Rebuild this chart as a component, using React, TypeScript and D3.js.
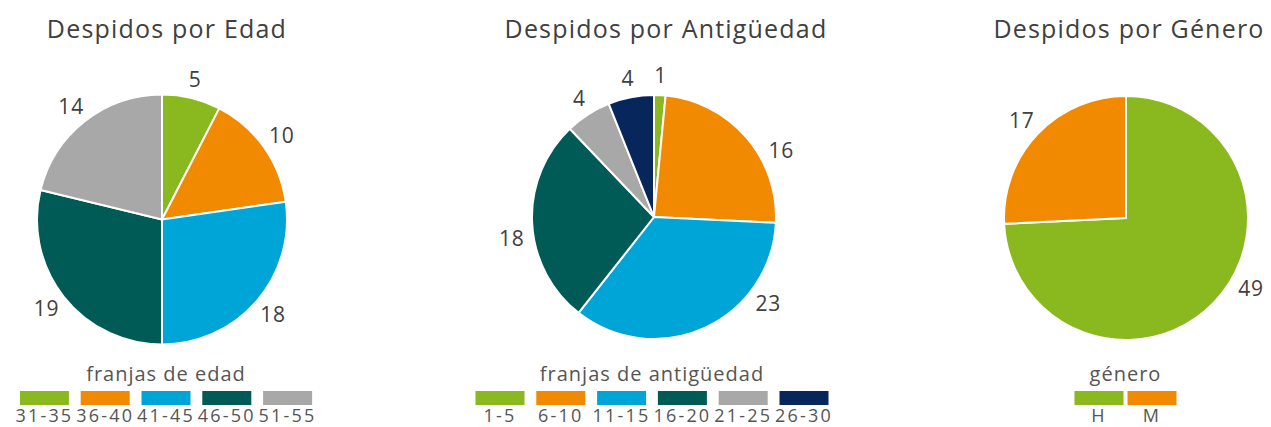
import React from "react";
import * as d3 from "d3";

// ---- data ----
const edadCategories = ["31-35", "36-40", "41-45", "46-50", "51-55"];
const edadValues = [5, 10, 18, 19, 14];

const antigCategories = ["1-5", "6-10", "11-15", "16-20", "21-25", "26-30"];
const antigValues = [1, 16, 23, 18, 4, 4];

const generoCategories = ["H", "M"];
const generoValues = [49, 17];

const titles = ["Despidos por Edad", "Despidos por Antigüedad", "Despidos por Género"];
const legendTitles = ["franjas de edad", "franjas de antigüedad", "género"];

// ---- style ----
const GREEN = "#8ab81f";
const ORANGE = "#f18a00";
const BLUE = "#00a5d7";
const TEAL = "#005b56";
const GRAY = "#a8a8a8";
const NAVY = "#07275c";
const palette6 = [GREEN, ORANGE, BLUE, TEAL, GRAY, NAVY];

const FONT = "'Open Sans', 'DejaVu Sans', sans-serif";
const TEXT = "#404040";

type ChartCfg = {
  title: string;
  titleX: number;
  cx: number;
  cy: number;
  r: number;
  cats: string[];
  vals: number[];
  legendTitle: string;
  legendCx: number;
  legendStep: number;
  labelNudge: number[]; // degrees, manual label drag like in the original
};

const charts: ChartCfg[] = [
  {
    title: titles[0], titleX: 167, cx: 162, cy: 219.5, r: 125,
    cats: edadCategories, vals: edadValues,
    legendTitle: legendTitles[0], legendCx: 166, legendStep: 60.8,
    labelNudge: [0, 0, 0, 0, 0],
  },
  {
    title: titles[1], titleX: 666, cx: 654, cy: 217, r: 122,
    cats: antigCategories, vals: antigValues,
    legendTitle: legendTitles[1], legendCx: 652, legendStep: 60.8,
    labelNudge: [0, 13, -28, -6, 0, 0],
  },
  {
    title: titles[2], titleX: 1129, cx: 1126, cy: 218, r: 122,
    cats: generoCategories, vals: generoValues,
    legendTitle: legendTitles[2], legendCx: 1125.5, legendStep: 53,
    labelNudge: [-14, 0],
  },
];

function Pie({ cfg }: { cfg: ChartCfg }) {
  const pie = d3.pie<number>().sort(null).value((d) => d)(cfg.vals);
  const arc = d3.arc<d3.PieArcDatum<number>>().innerRadius(0).outerRadius(cfg.r);
  const color = d3.scaleOrdinal<string, string>().domain(cfg.cats).range(palette6);
  const legendX = d3
    .scaleLinear()
    .domain([0, cfg.cats.length - 1])
    .range([
      cfg.legendCx - ((cfg.cats.length - 1) * cfg.legendStep) / 2,
      cfg.legendCx + ((cfg.cats.length - 1) * cfg.legendStep) / 2,
    ]);
  const fs = 21;
  return (
    <g>
      <text x={cfg.titleX} y={38} textAnchor="middle" fontSize={25} fill={TEXT} fontFamily={FONT} letterSpacing={1.2}>
        {cfg.title}
      </text>
      <g transform={`translate(${cfg.cx},${cfg.cy})`}>
        {pie.map((p, i) => (
          <path key={i} d={arc(p) || ""} fill={color(cfg.cats[i])} stroke="#ffffff" strokeWidth={2} strokeLinejoin="round" />
        ))}
        {pie.map((p, i) => {
          const a = (p.startAngle + p.endAngle) / 2 + ((cfg.labelNudge[i] || 0) * Math.PI) / 180;
          const s = Math.sin(a);
          const c = -Math.cos(a);
          const txt = String(cfg.vals[i]);
          const hw = (txt.length * fs * 0.57) / 2;
          const hh = fs * 0.45;
          const gap = 10;
          const x = (cfg.r + gap) * s + hw * s;
          const y = (cfg.r + gap) * c + hh * c;
          return (
            <text key={"l" + i} x={x} y={y} dy="0.36em" textAnchor="middle" fontSize={fs} fill={TEXT} fontFamily={FONT} letterSpacing={0.8}>
              {txt}
            </text>
          );
        })}
      </g>
      <text x={cfg.legendCx} y={381} textAnchor="middle" fontSize={20} fill="#555555" fontFamily={FONT} letterSpacing={1}>
        {cfg.legendTitle}
      </text>
      {cfg.cats.map((cat, i) => (
        <g key={"lg" + i}>
          <rect x={legendX(i) - 24.5} y={391} width={49} height={14} fill={color(cat)} />
          <text x={legendX(i)} y={422} textAnchor="middle" fontSize={18} fill="#555555" fontFamily={FONT} letterSpacing={2.2}>
            {cat}
          </text>
        </g>
      ))}
    </g>
  );
}

export default function App() {
  return (
    <svg
      width={1271}
      height={427}
      viewBox="0 0 1271 427"
      style={{ position: "absolute", left: 0, top: 0, background: "#ffffff" }}
    >
      <rect x={0} y={0} width={1271} height={427} fill="#ffffff" />
      {charts.map((c, i) => (
        <Pie key={i} cfg={c} />
      ))}
    </svg>
  );
}
